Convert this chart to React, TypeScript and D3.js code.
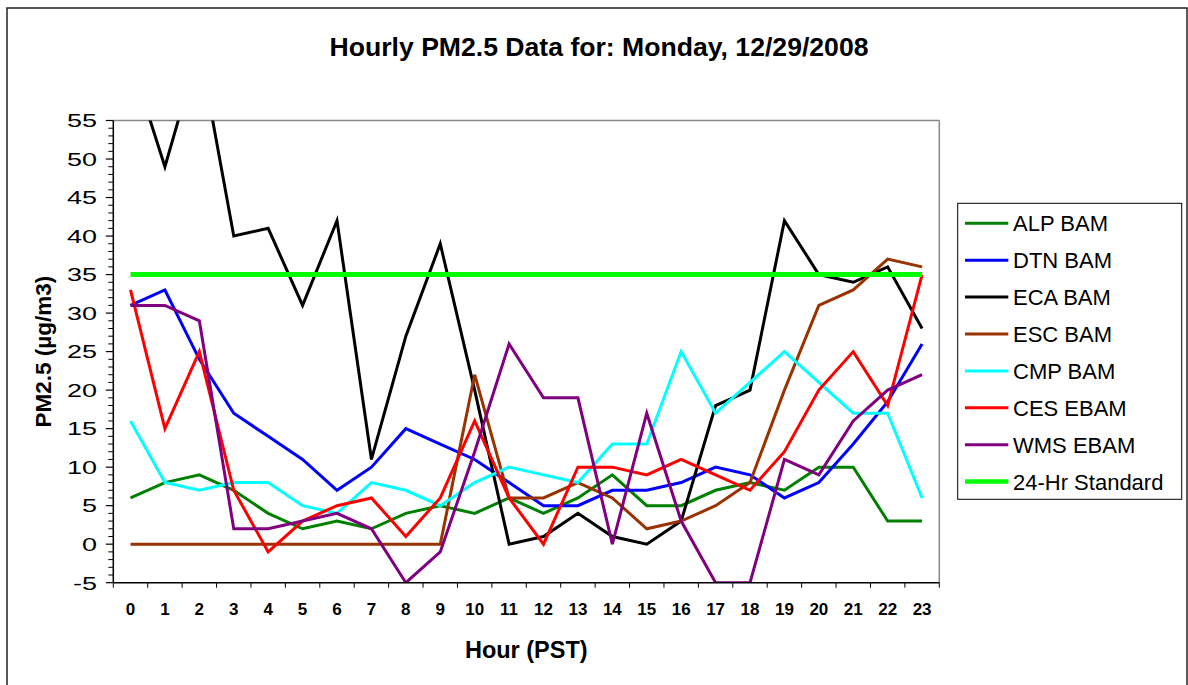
import React from "react";
import * as d3 from "d3";

const hours = d3.range(24).map(String);
const alpBam = [6, 8, 9, 7, 4, 2, 3, 2, 4, 5, 4, 6, 4, 6, 9, 5, 5, 7, 8, 7, 10, 10, 3, 3];
const dtnBam = [31, 33, 24, 17, 14, 11, 7, 10, 15, 13, 11, 8, 5, 5, 7, 7, 8, 10, 9, 6, 8, 13, 18.5, 26];
const ecaBam = [63, 49, 64.5, 40, 41, 31, 42, 11, 27, 39, 20, 0, 1, 4, 1, 0, 3, 18, 20, 42, 35, 34, 36, 28];
const escBam = [0, 0, 0, 0, 0, 0, 0, 0, 0, 0, 22, 6, 6, 8, 6, 2, 3, 5, 8, 20, 31, 33, 37, 36];
const cmpBam = [16, 8, 7, 8, 8, 5, 4, 8, 7, 5, 8, 10, 9, 8, 13, 13, 25, 17, 21, 25, 21, 17, 17, 6];
const cesEbam = [33, 15, 25, 7, -1, 3, 5, 6, 1, 6, 16, 6, 0, 10, 10, 9, 11, 9, 7, 12, 20, 25, 18, 35];
const wmsEbam = [31, 31, 29, 2, 2, 3, 4, 2, -5, -1, 12, 26, 19, 19, 0, 17, 3, -5, -5, 11, 9, 16, 20, 22];
const standard = hours.map(() => 35);
const yTicks = [-5, 0, 5, 10, 15, 20, 25, 30, 35, 40, 45, 50, 55];

const seriesNames = ["ALP BAM", "DTN BAM", "ECA BAM", "ESC BAM", "CMP BAM", "CES EBAM", "WMS EBAM", "24-Hr Standard"];
const seriesValues = [alpBam, dtnBam, ecaBam, escBam, cmpBam, cesEbam, wmsEbam, standard];
const seriesColors = ["#008000", "#0000FF", "#000000", "#993300", "#00FFFF", "#FF0000", "#800080", "#00FF00"];
const seriesWidths = [3, 3, 3, 3, 3, 3, 3, 5];

const W = 1188;
const H = 685;
const m = { left: 113.3, right: 939.3, top: 120.5, bottom: 582.7 };
const FONT = "'Liberation Sans', Arial, Helvetica, sans-serif";

export default function App() {
  const x = d3.scaleBand<string>().domain(hours).range([m.left, m.right]);
  const y = d3.scaleLinear().domain([-5, 55]).range([m.bottom, m.top]);
  const cx = (i: number) => (x(hours[i]) as number) + x.bandwidth() / 2;
  const line = d3
    .line<number>()
    .x((_, i) => cx(i))
    .y((v) => y(v));
  const minorTicks = d3.range(-5, 56, 1).filter((v) => v % 5 !== 0);
  const xBoundaries = hours.map((h) => x(h) as number).concat([m.right]);

  const legX = 957.7;
  const legY = 203.3;
  const legW = 224;
  const legH = 296;
  const rowY0 = 223.3;
  const rowDy = 36.9;

  return (
    <div style={{ position: "absolute", left: 0, top: 0 }}>
      <svg width={W} height={H} style={{ display: "block", background: "#fff" }}>
        <defs>
          <clipPath id="plotClip">
            <rect x={m.left} y={m.top} width={m.right - m.left} height={m.bottom - m.top} />
          </clipPath>
        </defs>
        <rect x={7} y={8} width={1180} height={690} fill="#fff" stroke="#222" strokeWidth={1.5} />

        <text x={599} y={55.7} textAnchor="middle" fontFamily={FONT} fontWeight="bold" fontSize={26.6}>
          Hourly PM2.5 Data for: Monday, 12/29/2008
        </text>

        {/* plot frame */}
        <line x1={m.left} x2={m.right} y1={m.top} y2={m.top} stroke="#888" strokeWidth={1.5} />
        <line x1={m.right} x2={m.right} y1={m.top} y2={m.bottom} stroke="#888" strokeWidth={1.5} />

        {/* series */}
        <g clipPath="url(#plotClip)">
          {seriesValues.map((vals, k) => (
            <path
              key={seriesNames[k]}
              d={line(vals) as string}
              fill="none"
              stroke={seriesColors[k]}
              strokeWidth={seriesWidths[k]}
              strokeLinejoin="miter"
            />
          ))}
        </g>

        {/* y axis */}
        <line x1={m.left} x2={m.left} y1={m.top} y2={m.bottom} stroke="#000" strokeWidth={1.5} />
        {minorTicks.map((v) => (
          <line key={"mn" + v} x1={m.left - 5} x2={m.left} y1={y(v)} y2={y(v)} stroke="#000" strokeWidth={1} />
        ))}
        {yTicks.map((v) => (
          <g key={"yt" + v}>
            <line x1={m.left - 7.5} x2={m.left} y1={y(v)} y2={y(v)} stroke="#000" strokeWidth={1.2} />
            <text
              transform={`translate(97,${y(v) + 6.8}) scale(1.42,1)`}
              textAnchor="end"
              fontFamily={FONT}
              fontSize={19}
            >
              {v}
            </text>
          </g>
        ))}

        {/* x axis */}
        <line x1={m.left} x2={m.right} y1={m.bottom} y2={m.bottom} stroke="#000" strokeWidth={1.5} />
        {xBoundaries.map((bx, i) => (
          <line key={"xb" + i} x1={bx} x2={bx} y1={m.bottom} y2={m.bottom + 5} stroke="#000" strokeWidth={1} />
        ))}
        {hours.map((h, i) => (
          <text
            key={"xl" + h}
            x={cx(i)}
            y={615}
            textAnchor="middle"
            fontFamily={FONT}
            fontWeight="bold"
            fontSize={17}
          >
            {h}
          </text>
        ))}

        <text x={526.3} y={658} textAnchor="middle" fontFamily={FONT} fontWeight="bold" fontSize={23.5}>
          Hour (PST)
        </text>
        <text
          transform={`translate(50.5,${(m.top + m.bottom) / 2}) rotate(-90)`}
          textAnchor="middle"
          fontFamily={FONT}
          fontWeight="bold"
          fontSize={22.5}
        >
          PM2.5 (µg/m3)
        </text>

        {/* legend */}
        <rect x={legX} y={legY} width={legW} height={legH} fill="#fff" stroke="#000" strokeWidth={1} />
        {seriesNames.map((name, k) => {
          const ry = rowY0 + k * rowDy;
          return (
            <g key={"lg" + name}>
              <line x1={965} x2={1008.3} y1={ry} y2={ry} stroke={seriesColors[k]} strokeWidth={seriesWidths[k] === 5 ? 4.5 : 3} />
              <text x={1013} y={ry + 8} fontFamily={FONT} fontSize={22}>
                {name}
              </text>
            </g>
          );
        })}
      </svg>
    </div>
  );
}
